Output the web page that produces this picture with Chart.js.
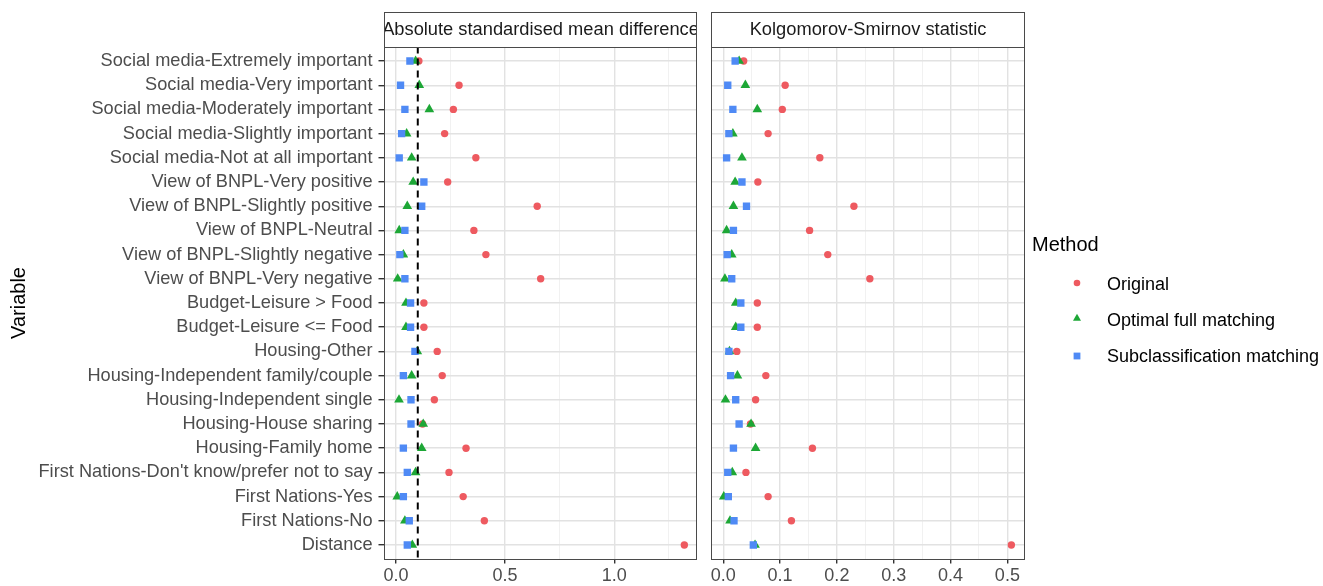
<!DOCTYPE html>
<html><head><meta charset="utf-8">
<script src="https://cdn.jsdelivr.net/npm/chart.js@4.4.1/dist/chart.umd.min.js"></script>
<style>
html,body{margin:0;padding:0;background:#fff;width:1323px;height:586px;overflow:hidden;font-family:'Liberation Sans',Arial,Helvetica,sans-serif;}
#c1{position:absolute;left:0;top:0;}
#c2{position:absolute;left:700px;top:0;}
.lg{position:absolute;white-space:nowrap;color:#000;}
.lgt{font-size:20px;line-height:24px;}
.lgi{font-size:18px;line-height:22px;}
.sym{position:absolute;}
</style></head><body>
<canvas id="c1" width="700" height="586"></canvas>
<canvas id="c2" width="340" height="586"></canvas>
<div class="lg lgt" style="left:1032px;top:232px;">Method</div>
<svg class="sym" style="left:1070px;top:276px" width="14" height="14"><circle cx="7" cy="7" r="3.3" fill="#EE5A60"/></svg>
<div class="lg lgi" style="left:1107px;top:273px;">Original</div>
<svg class="sym" style="left:1070px;top:311px" width="14" height="14"><polygon points="7,2.8 11,9.8 3,9.8" fill="#1DA736"/></svg>
<div class="lg lgi" style="left:1107px;top:309px;">Optimal full matching</div>
<svg class="sym" style="left:1070px;top:349px" width="14" height="14"><rect x="3.6" y="3.6" width="6.8" height="6.8" fill="#4F8AF5"/></svg>
<div class="lg lgi" style="left:1107px;top:345px;">Subclassification matching</div>
<script>
const FONT = "'Liberation Sans', Arial, Helvetica, sans-serif";

const variables = [
  "Social media-Extremely important",
  "Social media-Very important",
  "Social media-Moderately important",
  "Social media-Slightly important",
  "Social media-Not at all important",
  "View of BNPL-Very positive",
  "View of BNPL-Slightly positive",
  "View of BNPL-Neutral",
  "View of BNPL-Slightly negative",
  "View of BNPL-Very negative",
  "Budget-Leisure > Food",
  "Budget-Leisure <= Food",
  "Housing-Other",
  "Housing-Independent family/couple",
  "Housing-Independent single",
  "Housing-House sharing",
  "Housing-Family home",
  "First Nations-Don't know/prefer not to say",
  "First Nations-Yes",
  "First Nations-No",
  "Distance"
];

// Absolute standardised mean difference
const smdOriginal = [0.105, 0.289, 0.263, 0.223, 0.366, 0.237, 0.647, 0.357, 0.412, 0.663, 0.128, 0.128, 0.189, 0.212, 0.176, 0.122, 0.321, 0.243, 0.308, 0.405, 1.321];
const smdOptimal  = [0.090, 0.107, 0.153, 0.049, 0.072, 0.079, 0.052, 0.015, 0.034, 0.008, 0.046, 0.046, 0.098, 0.072, 0.014, 0.125, 0.118, 0.090, 0.006, 0.041, 0.075];
const smdSubclass = [0.064, 0.021, 0.041, 0.026, 0.015, 0.128, 0.118, 0.041, 0.018, 0.041, 0.067, 0.067, 0.087, 0.034, 0.069, 0.069, 0.034, 0.052, 0.034, 0.061, 0.052];

// Kolgomorov-Smirnov statistic
const ksOriginal = [0.036, 0.109, 0.104, 0.079, 0.170, 0.061, 0.230, 0.152, 0.184, 0.258, 0.060, 0.060, 0.024, 0.075, 0.057, 0.048, 0.157, 0.040, 0.079, 0.120, 0.507];
const ksOptimal  = [0.028, 0.039, 0.060, 0.017, 0.033, 0.021, 0.018, 0.006, 0.015, 0.003, 0.022, 0.022, 0.011, 0.025, 0.004, 0.049, 0.057, 0.016, 0.001, 0.012, 0.056];
const ksSubclass = [0.021, 0.008, 0.017, 0.010, 0.006, 0.033, 0.041, 0.018, 0.007, 0.015, 0.031, 0.031, 0.010, 0.013, 0.022, 0.028, 0.018, 0.008, 0.009, 0.019, 0.053];

const smdTicks = [0, 0.25, 0.5, 0.75, 1.0, 1.25];
const smdTickLabels = ["0.0", "", "0.5", "", "1.0", ""];
const ksTicks = [0, 0.05, 0.1, 0.15, 0.2, 0.25, 0.3, 0.35, 0.4, 0.45, 0.5];
const ksTickLabels = ["0.0", "", "0.1", "", "0.2", "", "0.3", "", "0.4", "", "0.5"];
const smdThreshold = 0.1;

const panelTitles = ["Absolute standardised mean difference", "Kolgomorov-Smirnov statistic"];

const COL_ORIG = '#EE5A60', COL_OPT = '#1DA736', COL_SUB = '#4F8AF5';

const panelDecor = {
  id: 'panelDecor',
  afterDraw(chart, args, opts) {
    const ctx = chart.ctx, a = chart.chartArea;
    const L = Math.round(a.left) + 0.5, R = Math.round(a.right) - 0.5;
    const T = Math.round(a.top) + 0.5, B = Math.round(a.bottom) - 0.5;
    const ST = 12.5;
    ctx.save();
    ctx.strokeStyle = '#4a4a4a';
    ctx.lineWidth = 1;
    ctx.strokeRect(L, T, R - L, B - T);
    ctx.fillStyle = '#ffffff';
    ctx.fillRect(L, ST, R - L, T - ST);
    ctx.strokeRect(L, ST, R - L, T - ST);
    ctx.beginPath();
    ctx.rect(L + 0.5, ST, R - L - 1, T - ST);
    ctx.clip();
    ctx.fillStyle = '#1a1a1a';
    ctx.font = '18.3px ' + FONT;
    ctx.textAlign = 'center';
    ctx.textBaseline = 'middle';
    ctx.fillText(opts.text, (L + R) / 2, (ST + T) / 2 - 0.5);
    ctx.restore();
  }
};

function pts(arr) { return arr.map((v, i) => ({ x: v, y: i })); }

function makePanel(canvasId, cfg) {
  const majorX = (i) => cfg.tickLabels[i] !== undefined && cfg.tickLabels[i] !== '';
  const datasets = [];
  if (cfg.threshold !== null) {
    datasets.push({
      label: 'Threshold', data: [{ x: cfg.threshold, y: -0.6 }, { x: cfg.threshold, y: variables.length - 0.4 }],
      showLine: true, borderColor: '#000', borderWidth: 2, borderDash: [7, 5], pointRadius: 0, order: 0
    });
  }
  datasets.push({ label: 'Subclassification matching', data: pts(cfg.sub), pointStyle: 'rect', pointRadius: 5.2, backgroundColor: COL_SUB, borderWidth: 0, order: 1 });
  datasets.push({ label: 'Optimal full matching', data: pts(cfg.opt), pointStyle: 'triangle', pointRadius: 5.6, backgroundColor: COL_OPT, borderWidth: 0, order: 2 });
  datasets.push({ label: 'Original', data: pts(cfg.orig), pointStyle: 'circle', pointRadius: 3.7, backgroundColor: COL_ORIG, borderWidth: 0, order: 3 });

  return new Chart(document.getElementById(canvasId), {
    type: 'scatter',
    data: { datasets },
    plugins: [panelDecor],
    options: {
      responsive: false, animation: false, devicePixelRatio: 1, events: [],
      layout: { autoPadding: false, padding: cfg.padding },
      plugins: { legend: { display: false }, tooltip: { enabled: false }, panelDecor: { text: cfg.title } },
      scales: {
        x: {
          type: 'linear', min: cfg.xmin, max: cfg.xmax,
          afterBuildTicks: (s) => { s.ticks = cfg.ticks.map(v => ({ value: v })); },
          afterFit: (s) => { s.height = 26.5; },
          ticks: {
            autoSkip: false, maxRotation: 0, padding: 2, color: '#4d4d4d',
            font: { family: FONT, size: 18 },
            callback: (v, i) => cfg.tickLabels[i]
          },
          grid: {
            color: (c) => majorX(c.index) ? '#e2e2e2' : '#ededed',
            lineWidth: (c) => majorX(c.index) ? 1.4 : 0.8,
            tickColor: (c) => majorX(c.index) ? '#333333' : 'rgba(0,0,0,0)',
            tickLength: 4, drawTicks: true
          },
          border: { display: false }
        },
        y: {
          type: 'linear', reverse: true, min: -0.6, max: variables.length - 0.4,
          afterBuildTicks: (s) => { s.ticks = variables.map((_, i) => ({ value: i })); },
          afterFit: (s) => { s.width = cfg.yWidth; },
          ticks: {
            display: cfg.showY, autoSkip: false, padding: 6, color: '#4d4d4d',
            font: { family: FONT, size: 18.2 },
            callback: (v) => variables[Math.round(v)]
          },
          grid: { color: '#e2e2e2', lineWidth: 1.4, tickColor: '#333333', tickLength: 5, drawTicks: cfg.showY },
          border: { display: false },
          title: { display: cfg.showY, text: 'Variable', color: '#000', font: { family: FONT, size: 20 }, padding: { top: 7, bottom: 0 } }
        }
      }
    }
  });
}

makePanel('c1', {
  title: panelTitles[0], orig: smdOriginal, opt: smdOptimal, sub: smdSubclass,
  xmin: -0.057, xmax: 1.379, ticks: smdTicks, tickLabels: smdTickLabels, threshold: smdThreshold,
  padding: { left: 0, top: 46.5, right: 3, bottom: 0 }, yWidth: 383.5, showY: true
});
makePanel('c2', {
  title: panelTitles[1], orig: ksOriginal, opt: ksOptimal, sub: ksSubclass,
  xmin: -0.022, xmax: 0.531, ticks: ksTicks, tickLabels: ksTickLabels, threshold: null,
  padding: { left: 10.7, top: 46.5, right: 15, bottom: 0 }, yWidth: 0, showY: false
});
</script>
</body></html>
